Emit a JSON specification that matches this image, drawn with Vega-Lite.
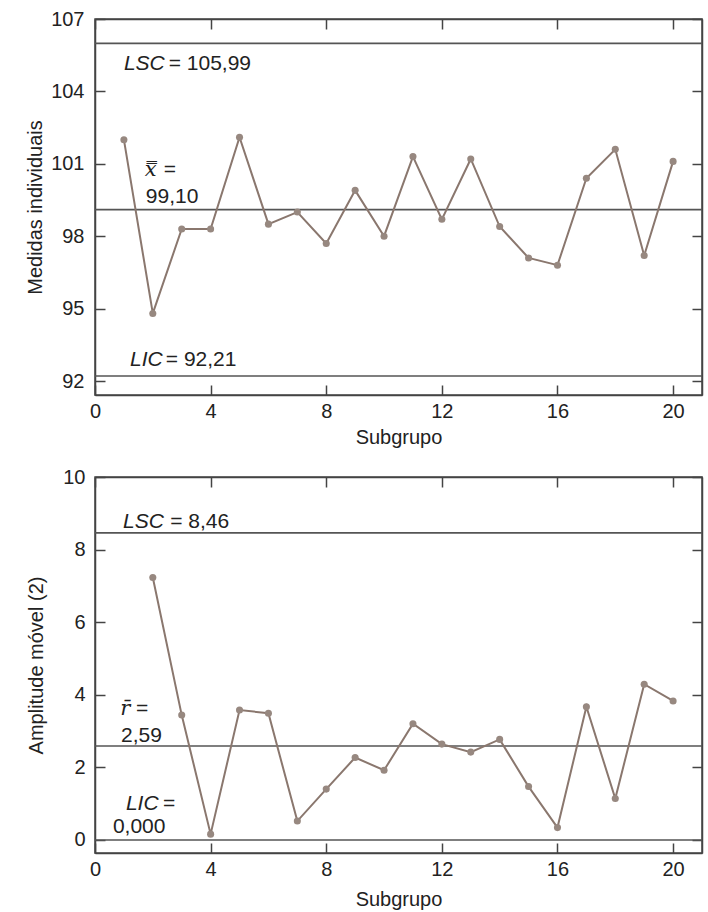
{
  "$schema": "https://vega.github.io/schema/vega-lite/v6.json",
  "padding": {"left": 24, "top": 8, "right": 4, "bottom": 0},
  "spacing": 18,
  "config": {
    "font": "Liberation Sans",
    "view": {"stroke": "#444", "strokeWidth": 1.5},
    "axis": {
      "grid": false,
      "domainColor": "#444",
      "domainWidth": 1.5,
      "tickColor": "#444",
      "tickWidth": 1.5,
      "tickSize": -10,
      "labelFontSize": 20,
      "labelColor": "#222",
      "labelFlush": false,
      "labelOverlap": false,
      "titleFontSize": 20,
      "titleFontWeight": "normal",
      "titleColor": "#222"
    },
    "text": {"fontSize": 21, "color": "#222", "align": "left", "baseline": "alphabetic"}
  },
  "vconcat": [
    {
      "width": 607,
      "height": 376,
      "resolve": {"axis": {"x": "independent", "y": "independent"}},
      "layer": [
        {
          "data": {"values": [
            {"limite": "LSC", "valor": 105.99},
            {"limite": "LC", "valor": 99.10},
            {"limite": "LIC", "valor": 92.21}
          ]},
          "mark": {"type": "rule", "color": "#555", "strokeWidth": 1.6},
          "encoding": {
            "y": {"field": "valor", "type": "quantitative", "axis": null,
                  "scale": {"domain": [91.42, 107], "nice": false, "zero": false}}
          }
        },
        {
          "data": {"name": "medidas", "values": [
            {"subgrupo": 1, "valor": 102.0},
            {"subgrupo": 2, "valor": 94.8},
            {"subgrupo": 3, "valor": 98.3},
            {"subgrupo": 4, "valor": 98.3},
            {"subgrupo": 5, "valor": 102.1},
            {"subgrupo": 6, "valor": 98.5},
            {"subgrupo": 7, "valor": 99.0},
            {"subgrupo": 8, "valor": 97.7},
            {"subgrupo": 9, "valor": 99.9},
            {"subgrupo": 10, "valor": 98.0},
            {"subgrupo": 11, "valor": 101.3},
            {"subgrupo": 12, "valor": 98.7},
            {"subgrupo": 13, "valor": 101.2},
            {"subgrupo": 14, "valor": 98.4},
            {"subgrupo": 15, "valor": 97.1},
            {"subgrupo": 16, "valor": 96.8},
            {"subgrupo": 17, "valor": 100.4},
            {"subgrupo": 18, "valor": 101.6},
            {"subgrupo": 19, "valor": 97.2},
            {"subgrupo": 20, "valor": 101.1}
          ]},
          "layer": [
            {
              "mark": {"type": "line", "color": "#8a776e", "strokeWidth": 2},
              "encoding": {
                "x": {"field": "subgrupo", "type": "quantitative",
                      "scale": {"domain": [0, 21], "nice": false},
                      "axis": {"orient": "bottom", "values": [0, 4, 8, 12, 16, 20], "labelPadding": 16,
                               "title": "Subgrupo", "titlePadding": 6}},
                "y": {"field": "valor", "type": "quantitative",
                      "scale": {"domain": [91.42, 107], "nice": false, "zero": false},
                      "axis": {"orient": "left", "values": [92, 95, 98, 101, 104, 107], "labelPadding": 21,
                               "title": "Medidas individuais", "titlePadding": 5}}
              }
            },
            {
              "mark": {"type": "point", "filled": true, "color": "#978880", "size": 50, "opacity": 1},
              "encoding": {
                "x": {"field": "subgrupo", "type": "quantitative",
                      "axis": {"orient": "top", "values": [0, 4, 8, 12, 16, 20], "labels": false, "title": null}},
                "y": {"field": "valor", "type": "quantitative",
                      "axis": {"orient": "right", "values": [92, 95, 98, 101, 104, 107], "labels": false, "title": null}}
              }
            }
          ]
        },
        {"data": {"values": [{}]}, "mark": {"type": "text", "text": "LSC", "fontStyle": "italic"},
         "encoding": {"x": {"datum": 1.0, "type": "quantitative", "axis": null}, "y": {"datum": 104.9, "type": "quantitative", "axis": null}}},
        {"data": {"values": [{}]}, "mark": {"type": "text", "text": "= 105,99"},
         "encoding": {"x": {"datum": 2.55, "type": "quantitative", "axis": null}, "y": {"datum": 104.9, "type": "quantitative", "axis": null}}},
        {"data": {"values": [{}]}, "mark": {"type": "text", "text": "x̿", "font": "DejaVu Serif", "fontStyle": "italic", "fontSize": 21},
         "encoding": {"x": {"datum": 1.72, "type": "quantitative", "axis": null}, "y": {"datum": 100.49, "type": "quantitative", "axis": null}}},
        {"data": {"values": [{}]}, "mark": {"type": "text", "text": "="},
         "encoding": {"x": {"datum": 2.38, "type": "quantitative", "axis": null}, "y": {"datum": 100.49, "type": "quantitative", "axis": null}}},
        {"data": {"values": [{}]}, "mark": {"type": "text", "text": "99,10"},
         "encoding": {"x": {"datum": 1.76, "type": "quantitative", "axis": null}, "y": {"datum": 99.38, "type": "quantitative", "axis": null}}},
        {"data": {"values": [{}]}, "mark": {"type": "text", "text": "LIC", "fontStyle": "italic"},
         "encoding": {"x": {"datum": 1.21, "type": "quantitative", "axis": null}, "y": {"datum": 92.64, "type": "quantitative", "axis": null}}},
        {"data": {"values": [{}]}, "mark": {"type": "text", "text": "= 92,21"},
         "encoding": {"x": {"datum": 2.45, "type": "quantitative", "axis": null}, "y": {"datum": 92.64, "type": "quantitative", "axis": null}}}
      ]
    },
    {
      "width": 607,
      "height": 376,
      "resolve": {"axis": {"x": "independent", "y": "independent"}},
      "layer": [
        {
          "data": {"values": [
            {"limite": "LSC", "valor": 8.46},
            {"limite": "LC", "valor": 2.59},
            {"limite": "LIC", "valor": 0.0}
          ]},
          "mark": {"type": "rule", "color": "#555", "strokeWidth": 1.6},
          "encoding": {
            "y": {"field": "valor", "type": "quantitative", "axis": null,
                  "scale": {"domain": [-0.36, 10], "nice": false, "zero": false}}
          }
        },
        {
          "data": {"name": "amplitudes", "values": [
            {"subgrupo": 2, "amplitude": 7.23},
            {"subgrupo": 3, "amplitude": 3.44},
            {"subgrupo": 4, "amplitude": 0.16},
            {"subgrupo": 5, "amplitude": 3.58},
            {"subgrupo": 6, "amplitude": 3.49},
            {"subgrupo": 7, "amplitude": 0.52},
            {"subgrupo": 8, "amplitude": 1.40},
            {"subgrupo": 9, "amplitude": 2.27},
            {"subgrupo": 10, "amplitude": 1.92},
            {"subgrupo": 11, "amplitude": 3.20},
            {"subgrupo": 12, "amplitude": 2.64},
            {"subgrupo": 13, "amplitude": 2.42},
            {"subgrupo": 14, "amplitude": 2.77},
            {"subgrupo": 15, "amplitude": 1.47},
            {"subgrupo": 16, "amplitude": 0.34},
            {"subgrupo": 17, "amplitude": 3.67},
            {"subgrupo": 18, "amplitude": 1.14},
            {"subgrupo": 19, "amplitude": 4.29},
            {"subgrupo": 20, "amplitude": 3.83}
          ]},
          "layer": [
            {
              "mark": {"type": "line", "color": "#8a776e", "strokeWidth": 2},
              "encoding": {
                "x": {"field": "subgrupo", "type": "quantitative",
                      "scale": {"domain": [0, 21], "nice": false},
                      "axis": {"orient": "bottom", "values": [0, 4, 8, 12, 16, 20], "labelPadding": 16,
                               "title": "Subgrupo", "titlePadding": 10}},
                "y": {"field": "amplitude", "type": "quantitative",
                      "scale": {"domain": [-0.36, 10], "nice": false, "zero": false},
                      "axis": {"orient": "left", "values": [0, 2, 4, 6, 8, 10], "labelPadding": 20,
                               "title": "Amplitude móvel (2)", "titlePadding": 16}}
              }
            },
            {
              "mark": {"type": "point", "filled": true, "color": "#978880", "size": 50, "opacity": 1},
              "encoding": {
                "x": {"field": "subgrupo", "type": "quantitative",
                      "axis": {"orient": "top", "values": [0, 4, 8, 12, 16, 20], "labels": false, "title": null}},
                "y": {"field": "amplitude", "type": "quantitative",
                      "axis": {"orient": "right", "values": [0, 2, 4, 6, 8, 10], "labels": false, "title": null}}
              }
            }
          ]
        },
        {"data": {"values": [{}]}, "mark": {"type": "text", "text": "LSC", "fontStyle": "italic"},
         "encoding": {"x": {"datum": 0.97, "type": "quantitative", "axis": null}, "y": {"datum": 8.59, "type": "quantitative", "axis": null}}},
        {"data": {"values": [{}]}, "mark": {"type": "text", "text": "= 8,46"},
         "encoding": {"x": {"datum": 2.6, "type": "quantitative", "axis": null}, "y": {"datum": 8.59, "type": "quantitative", "axis": null}}},
        {"data": {"values": [{}]}, "mark": {"type": "text", "text": "r̄", "font": "DejaVu Serif", "fontStyle": "italic", "fontSize": 21},
         "encoding": {"x": {"datum": 0.87, "type": "quantitative", "axis": null}, "y": {"datum": 3.44, "type": "quantitative", "axis": null}}},
        {"data": {"values": [{}]}, "mark": {"type": "text", "text": "="},
         "encoding": {"x": {"datum": 1.42, "type": "quantitative", "axis": null}, "y": {"datum": 3.44, "type": "quantitative", "axis": null}}},
        {"data": {"values": [{}]}, "mark": {"type": "text", "text": "2,59"},
         "encoding": {"x": {"datum": 0.9, "type": "quantitative", "axis": null}, "y": {"datum": 2.7, "type": "quantitative", "axis": null}}},
        {"data": {"values": [{}]}, "mark": {"type": "text", "text": "LIC", "fontStyle": "italic"},
         "encoding": {"x": {"datum": 1.07, "type": "quantitative", "axis": null}, "y": {"datum": 0.83, "type": "quantitative", "axis": null}}},
        {"data": {"values": [{}]}, "mark": {"type": "text", "text": "="},
         "encoding": {"x": {"datum": 2.35, "type": "quantitative", "axis": null}, "y": {"datum": 0.83, "type": "quantitative", "axis": null}}},
        {"data": {"values": [{}]}, "mark": {"type": "text", "text": "0,000"},
         "encoding": {"x": {"datum": 0.62, "type": "quantitative", "axis": null}, "y": {"datum": 0.19, "type": "quantitative", "axis": null}}}
      ]
    }
  ]
}
